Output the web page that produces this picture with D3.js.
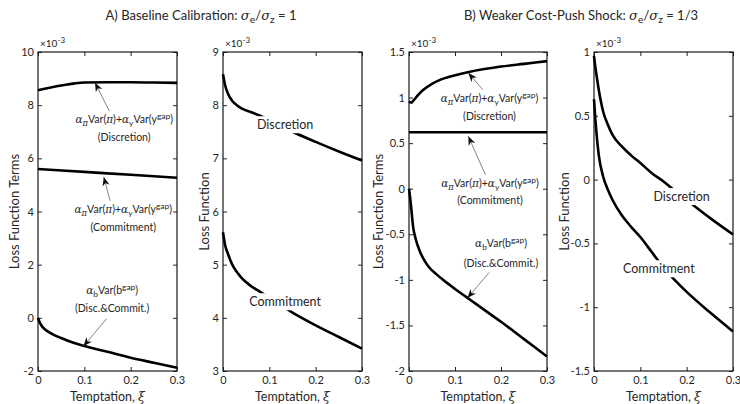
<!DOCTYPE html>
<html>
<head>
<meta charset="utf-8">
<script src="https://cdn.jsdelivr.net/npm/d3@7"></script>
<style>
body { margin: 0; background: #fff; }
text { font-family: Lato, "Noto Sans", sans-serif; fill: #262626; }
</style>
</head>
<body>
<svg id="chart" width="740" height="404"></svg>
<script>
// all loss values are in units of 1e-3
const xTicks = [0, 0.1, 0.2, 0.3];

// A) baseline, loss function terms
const xiA_disc = [0, 0.02, 0.04, 0.06, 0.08, 0.1, 0.15, 0.2, 0.25, 0.3];
const termA_disc = [8.56, 8.64, 8.71, 8.77, 8.82, 8.85, 8.86, 8.86, 8.85, 8.84];
const xiA_comm = [0, 0.1, 0.2, 0.3];
const termA_comm = [5.6, 5.49, 5.38, 5.27];
const xiA_bgap = [0, 0.005, 0.01, 0.02, 0.03, 0.05, 0.075, 0.1, 0.15, 0.2, 0.25, 0.3];
const termA_bgap = [0, -0.22, -0.35, -0.5, -0.6, -0.76, -0.93, -1.06, -1.28, -1.5, -1.69, -1.88];
const ticksA_terms = [-2, 0, 2, 4, 6, 8, 10];

// A) baseline, total loss
const xiA_total = [0, 0.005, 0.01, 0.02, 0.03, 0.04, 0.06, 0.08, 0.1, 0.15, 0.2, 0.25, 0.3];
const lossA_disc = [8.58, 8.36, 8.23, 8.08, 8.0, 7.94, 7.87, 7.8, 7.72, 7.5, 7.31, 7.13, 6.96];
const lossA_comm = [5.61, 5.35, 5.22, 5.0, 4.86, 4.75, 4.6, 4.49, 4.38, 4.1, 3.86, 3.64, 3.42];
const ticksA_loss = [3, 4, 5, 6, 7, 8, 9];

// B) weaker cost-push shock, loss function terms
const xiB_disc = [0, 0.005, 0.01, 0.02, 0.03, 0.05, 0.07, 0.09, 0.13, 0.2, 0.25, 0.3];
const termB_disc = [0.955, 0.945, 0.97, 1.03, 1.08, 1.15, 1.2, 1.23, 1.28, 1.34, 1.37, 1.4];
const xiB_comm = [0, 0.3];
const termB_comm = [0.62, 0.62];
const xiB_bgap = [0, 0.002, 0.004, 0.009, 0.015, 0.023, 0.035, 0.045, 0.06, 0.074, 0.1, 0.125, 0.15, 0.2, 0.25, 0.3];
const termB_bgap = [0, -0.08, -0.17, -0.42, -0.56, -0.68, -0.8, -0.87, -0.94, -1.0, -1.1, -1.19, -1.28, -1.46, -1.65, -1.84];
const ticksB_terms = [-2, -1.5, -1, -0.5, 0, 0.5, 1, 1.5];

// B) weaker cost-push shock, total loss
const xiB_total = [0, 0.003, 0.005, 0.01, 0.02, 0.03, 0.04, 0.06, 0.08, 0.1, 0.125, 0.15, 0.175, 0.2, 0.25, 0.3];
const lossB_disc = [0.97, 0.88, 0.83, 0.71, 0.53, 0.43, 0.35, 0.26, 0.19, 0.13, 0.05, -0.015, -0.09, -0.16, -0.3, -0.43];
const lossB_comm = [0.63, 0.47, 0.38, 0.2, 0.02, -0.08, -0.16, -0.28, -0.37, -0.45, -0.57, -0.69, -0.79, -0.88, -1.04, -1.19];
const ticksB_loss = [-1.5, -1, -0.5, 0, 0.5, 1];

const vis = d3.select("#chart");
const top_ = 52, bottom = 371;

// formula pieces: [text, kind] kind: g = greek/serif italic, sub, sup
const varTerms = [["α", "g"], ["π", "g sub"], ["Var(", ""], ["π", "g"], [")+", ""], ["α", "g"], ["y", "sub"],
    ["Var(y", ""], ["gap", "sup"], [")", ""]];
const bTerm = [["α", "g"], ["b", "sub"], ["Var(b", ""], ["gap", "sup"], [")", ""]];

function rich(t, parts) {
    let shift = 0;
    parts.forEach(([s, k]) => {
        const target = k.includes("sub") ? 3 : k.includes("sup") ? -4 : 0;
        const ts = t.append("tspan").attr("dy", target - shift).text(s);
        shift = target;
        if (k.includes("g")) ts.attr("font-family", "DejaVu Serif").attr("font-style", "italic");
        if (target !== 0) ts.attr("font-size", "0.8em");
    });
}

const panels = [
    {x0: 38, x1: 177, ticks: ticksA_terms, ylab: "Loss Function Terms", ylabX: 14,
     series: [[xiA_disc, termA_disc], [xiA_comm, termA_comm], [xiA_bgap, termA_bgap]],
     notes: [
        {lines: [varTerms, [["(Discretion)", ""]]], at: [0.186, 7.33], gap: 0.68, tail: [0.16, 7.57], tip: [0.123, 8.85]},
        {lines: [varTerms, [["(Commitment)", ""]]], at: [0.184, 3.95], gap: 0.68, tail: [0.159, 4.18], tip: [0.142, 5.3]},
        {lines: [bTerm, [["(Disc.&Commit.)", ""]]], at: [0.16, 0.91], gap: 0.69, tail: [0.148, -0.03], tip: [0.098, -1.07]}
     ], labels: []},
    {x0: 223, x1: 362, ticks: ticksA_loss, ylab: "Loss Function", ylabX: 204,
     series: [[xiA_total, lossA_disc], [xiA_total, lossA_comm]], notes: [],
     labels: [["Discretion", 0.134, 7.63], ["Commitment", 0.134, 4.3]]},
    {x0: 409, x1: 547, ticks: ticksB_terms, ylab: "Loss Function Terms", ylabX: 378,
     series: [[xiB_disc, termB_disc], [xiB_comm, termB_comm], [xiB_bgap, termB_bgap]],
     notes: [
        {lines: [varTerms, [["(Discretion)", ""]]], at: [0.175, 0.955], gap: 0.2, tail: [0.17, 1.03], tip: [0.129, 1.27]},
        {lines: [varTerms, [["(Commitment)", ""]]], at: [0.176, 0.022], gap: 0.19, tail: [0.17, 0.11], tip: [0.129, 0.575]},
        {lines: [bTerm, [["(Disc.&Commit.)", ""]]], at: [0.2, -0.636], gap: 0.22, tail: [0.174, -0.92], tip: [0.127, -1.2]}
     ], labels: []},
    {x0: 594, x1: 733, ticks: ticksB_loss, ylab: "Loss Function", ylabX: 564,
     series: [[xiB_total, lossB_disc], [xiB_total, lossB_comm]], notes: [],
     labels: [["Discretion", 0.189, -0.134], ["Commitment", 0.14, -0.7]]}
];

const defs = vis.append("defs");
defs.append("marker").attr("id", "head").attr("viewBox", "0 0 10 10")
    .attr("refX", 10).attr("refY", 5).attr("markerWidth", 9).attr("markerHeight", 9)
    .attr("markerUnits", "userSpaceOnUse").attr("orient", "auto")
    .append("path").attr("d", "M0,1 L10,5 L0,9 L3,5 Z").attr("fill", "#111");

panels.forEach(p => {
    const x = d3.scaleLinear().domain([0, 0.3]).range([p.x0, p.x1]);
    const y = d3.scaleLinear().domain(d3.extent(p.ticks)).range([bottom, top_]);
    const g = vis.append("g");

    const fmt = d => String(d);
    g.append("g").attr("transform", `translate(0,${bottom})`)
        .call(d3.axisBottom(x).tickValues(xTicks).tickSize(-4).tickSizeOuter(0).tickPadding(5).tickFormat(fmt));
    g.append("g").attr("transform", `translate(0,${top_})`)
        .call(d3.axisTop(x).tickValues(xTicks).tickSize(-4).tickSizeOuter(0).tickFormat(""));
    g.append("g").attr("transform", `translate(${p.x0},0)`)
        .call(d3.axisLeft(y).tickValues(p.ticks).tickSize(-4).tickSizeOuter(0).tickPadding(4).tickFormat(fmt));
    g.append("g").attr("transform", `translate(${p.x1},0)`)
        .call(d3.axisRight(y).tickValues(p.ticks).tickSize(-4).tickSizeOuter(0).tickFormat(""));
    g.selectAll(".domain").remove();
    g.selectAll(".tick line").attr("stroke", "#262626");
    g.selectAll(".tick text").attr("font-size", 11).attr("font-family", "Lato, sans-serif").attr("fill", "#262626");

    g.append("rect").attr("x", p.x0).attr("y", top_).attr("width", p.x1 - p.x0).attr("height", bottom - top_)
        .attr("fill", "none").attr("stroke", "#1a1a1a").attr("stroke-width", 1.2);

    const ex = g.append("text").attr("x", p.x0 + 2).attr("y", top_ - 5).attr("font-size", 10);
    ex.append("tspan").text("×10");
    ex.append("tspan").attr("dy", -4).attr("font-size", 8).text("-3");

    const line = d3.line().x(d => x(d[0])).y(d => y(d[1])).curve(d3.curveMonotoneX);
    p.series.forEach(([xs, vs]) => {
        g.append("path").datum(xs.map((v, i) => [v, vs[i]]))
            .attr("d", line).attr("fill", "none").attr("stroke", "#000").attr("stroke-width", 2.6);
    });

    p.labels.forEach(([s, xi, v]) => {
        const t = g.append("text").attr("x", x(xi)).attr("y", y(v)).attr("dy", "0.35em")
            .attr("text-anchor", "middle").attr("font-size", 12.5).text(s);
        const b = t.node().getBBox();
        g.insert("rect", () => t.node()).attr("x", b.x - 3).attr("y", b.y - 1)
            .attr("width", b.width + 6).attr("height", b.height + 2).attr("fill", "#fff");
    });

    p.notes.forEach(n => {
        g.append("line").attr("x1", x(n.tail[0])).attr("y1", y(n.tail[1]))
            .attr("x2", x(n.tip[0])).attr("y2", y(n.tip[1]))
            .attr("stroke", "#333").attr("stroke-width", 0.6).attr("marker-end", "url(#head)");
        n.lines.forEach((parts, i) => {
            const t = g.append("text").attr("x", x(n.at[0])).attr("y", y(n.at[1] - i * n.gap))
                .attr("dy", "0.35em").attr("text-anchor", "middle").attr("font-size", 10.5);
            rich(t, parts);
            const b = t.node().getBBox();
            g.insert("rect", () => t.node()).attr("x", b.x - 1).attr("y", b.y)
                .attr("width", b.width + 2).attr("height", b.height).attr("fill", "#fff");
        });
    });

    g.append("text").attr("x", (p.x0 + p.x1) / 2).attr("y", 401).attr("text-anchor", "middle")
        .attr("font-size", 12.5).call(t => rich(t, [["Temptation, ", ""], ["ξ", "g"]]));
    g.append("text").attr("transform", `translate(${p.ylabX},${(top_ + bottom) / 2}) rotate(-90)`)
        .attr("dy", "0.35em").attr("text-anchor", "middle").attr("font-size", 13).text(p.ylab);
});

const titles = [["A) Baseline Calibration: ", "1", 201], ["B) Weaker Cost-Push Shock: ", "1/3", 581]];
titles.forEach(([s, r, cx]) => {
    const t = vis.append("text").attr("x", cx).attr("y", 20).attr("text-anchor", "middle").attr("font-size", 13);
    rich(t, [[s, ""], ["σ", "g"], ["e", "sub"], ["/", ""], ["σ", "g"], ["z", "sub"], [" = " + r, ""]]);
});
</script>
</body>
</html>
